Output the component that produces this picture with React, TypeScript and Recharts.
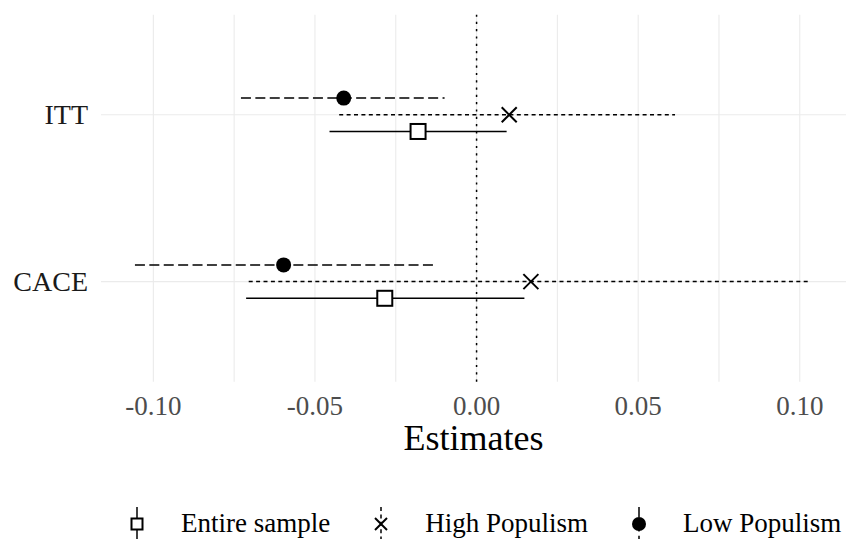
import React from "react";
import {
  ScatterChart,
  Scatter,
  XAxis,
  YAxis,
  CartesianGrid,
  ReferenceLine,
  Legend,
} from "recharts";

// categories top to bottom
const categories = ["ITT", "CACE"];
const groups = ["Entire sample", "High Populism", "Low Populism"];

// point estimates and confidence bounds, one value per category
const entireEst = [-0.0181, -0.0284];
const entireLo = [-0.0455, -0.0713];
const entireHi = [0.0093, 0.0148];

const highEst = [0.0101, 0.0168];
const highLo = [-0.0425, -0.0705];
const highHi = [0.0614, 0.1026];

const lowEst = [-0.0411, -0.0597];
const lowLo = [-0.0729, -0.1057];
const lowHi = [-0.0099, -0.0134];

const majorTicks = [-0.1, -0.05, 0, 0.05, 0.1];
const minorTicks = [-0.075, -0.025, 0.025, 0.075];
const allTicks = [...majorTicks, ...minorTicks].sort((a, b) => a - b);
const yTicks = [1, 2];

const W = 846;
const H = 539;
const DODGE = 0.1;
const X_DOMAIN: [number, number] = [-0.1162, 0.1143];
const Y_DOMAIN: [number, number] = [0.4, 2.6];
const FONT = '"Liberation Serif", "Times New Roman", serif';

type Marker = "square" | "cross" | "dot";

const series = [
  { name: groups[0], est: entireEst, lo: entireLo, hi: entireHi, dash: undefined, shift: -DODGE, marker: "square" as Marker },
  { name: groups[1], est: highEst, lo: highLo, hi: highHi, dash: "4 3.4", shift: 0, marker: "cross" as Marker },
  { name: groups[2], est: lowEst, lo: lowLo, hi: lowHi, dash: "10 4.4", shift: DODGE, marker: "dot" as Marker },
];

const catY = (i: number) => categories.length - i;

function drawMarker(kind: Marker, cx: number, cy: number, small = false) {
  if (kind === "square") {
    const s = small ? 11 : 15;
    return <rect x={cx - s / 2} y={cy - s / 2} width={s} height={s} fill="#fff" stroke="#000" strokeWidth={2} />;
  }
  if (kind === "cross") {
    const h = small ? 6 : 7.5;
    return (
      <g stroke="#000" strokeWidth={2}>
        <line x1={cx - h} y1={cy - h} x2={cx + h} y2={cy + h} />
        <line x1={cx - h} y1={cy + h} x2={cx + h} y2={cy - h} />
      </g>
    );
  }
  return <circle cx={cx} cy={cy} r={small ? 7 : 7.5} fill="#000" />;
}

const XTick = (props: any) => {
  const { x, y, payload } = props;
  if (!majorTicks.includes(payload.value)) return <g />;
  return (
    <text x={x} y={y + 33} textAnchor="middle" fill="#4d4d4d" fontSize={27} fontFamily={FONT}>
      {payload.value.toFixed(2)}
    </text>
  );
};

const YTick = (props: any) => {
  const { x, y, payload } = props;
  return (
    <text x={x} y={y} dy="0.33em" textAnchor="end" fill="#1a1a1a" fontSize={28} fontFamily={FONT}>
      {categories[categories.length - payload.value]}
    </text>
  );
};

const XLabel = (props: any) => {
  const vb = props.viewBox;
  return (
    <text x={vb.x + vb.width / 2} y={vb.y + 68} textAnchor="middle" fill="#000" fontSize={36} fontFamily={FONT}>
      Estimates
    </text>
  );
};

const LegendBox = () => (
  <div style={{ display: "flex", alignItems: "center", height: 32, paddingLeft: 127, fontFamily: FONT, fontSize: 27 }}>
    {series.map((s, i) => (
      <div key={s.name} style={{ display: "flex", alignItems: "center", marginRight: i < series.length - 1 ? 41 : 0 }}>
        <svg width={20} height={32}>
          <line x1={10} y1={0} x2={10} y2={32} stroke="#000" strokeWidth={1.5} strokeDasharray={s.dash} />
          {drawMarker(s.marker, 10, 17, true)}
        </svg>
        <span style={{ marginLeft: 34, color: "#000", whiteSpace: "nowrap" }}>{s.name}</span>
      </div>
    ))}
  </div>
);

const noShape = () => <g />;

// grid lines only at the tick positions (no panel border)
const vGrid = ({ offset }: any) =>
  allTicks.map((t) => offset.left + ((t - X_DOMAIN[0]) / (X_DOMAIN[1] - X_DOMAIN[0])) * offset.width);
const hGrid = ({ offset }: any) =>
  yTicks.map((t) => offset.top + ((Y_DOMAIN[1] - t) / (Y_DOMAIN[1] - Y_DOMAIN[0])) * offset.height);

export default function App() {
  return (
    <div style={{ position: "absolute", left: 0, top: 0, width: W, height: H, background: "#fff", fontFamily: FONT }}>
      <ScatterChart width={W} height={H} margin={{ top: 14.7, right: 0, bottom: 0, left: 0 }}>
        <CartesianGrid
          stroke="#ebebeb"
          strokeWidth={1.1}
          verticalCoordinatesGenerator={vGrid}
          horizontalCoordinatesGenerator={hGrid}
        />
        <XAxis
          type="number"
          dataKey="x"
          domain={X_DOMAIN}
          allowDataOverflow
          ticks={allTicks}
          interval={0}
          axisLine={false}
          tickLine={false}
          tickSize={0}
          tickMargin={0}
          tick={<XTick />}
          height={125.3}
          label={<XLabel />}
        />
        <YAxis
          type="number"
          dataKey="y"
          domain={Y_DOMAIN}
          ticks={yTicks}
          interval={0}
          axisLine={false}
          tickLine={false}
          tickSize={0}
          tickMargin={13}
          tick={<YTick />}
          width={101}
        />
        <ReferenceLine x={0} stroke="#000" strokeWidth={1.5} strokeDasharray="2.2 5.1" />
        {series.map((s) =>
          categories.map((c, i) => (
            <Scatter
              key={`${s.name}-${c}-ci`}
              data={[
                { x: s.lo[i], y: catY(i) + s.shift },
                { x: s.hi[i], y: catY(i) + s.shift },
              ]}
              line={{ stroke: "#000", strokeWidth: 1.5, strokeDasharray: s.dash }}
              shape={noShape}
              legendType="none"
              isAnimationActive={false}
            />
          ))
        )}
        {series.map((s) => (
          <Scatter
            key={`${s.name}-pt`}
            name={s.name}
            data={categories.map((c, i) => ({ x: s.est[i], y: catY(i) + s.shift }))}
            shape={(p: any) => drawMarker(s.marker, p.cx, p.cy)}
            isAnimationActive={false}
          />
        ))}
        <Legend verticalAlign="bottom" align="center" width={W} height={32} content={<LegendBox />} />
      </ScatterChart>
    </div>
  );
}
